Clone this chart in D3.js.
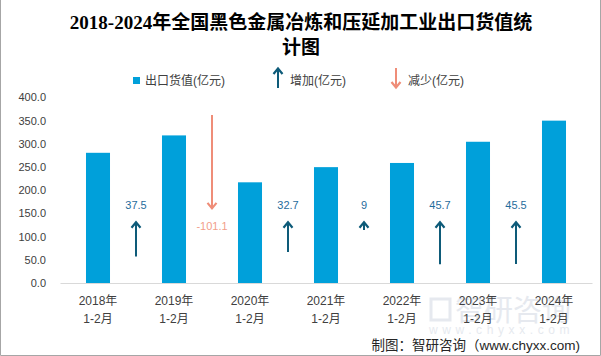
<!DOCTYPE html>
<html><head><meta charset="utf-8">
<script src="https://cdn.jsdelivr.net/npm/d3@7"></script>
<style>
html,body{margin:0;padding:0;background:#fff;}
svg{display:block;}
</style></head>
<body>
<svg id="chart" width="601" height="356"></svg>
<script>
// ---- data ----
const years = ["2018年","2019年","2020年","2021年","2022年","2023年","2024年"];
const period = "1-2月";
const exportValue = [280.6, 318.1, 217.0, 249.7, 258.7, 304.4, 349.9];
const changes = [37.5, -101.1, 32.7, 9, 45.7, 45.5];
const changeLabels = ["37.5","-101.1","32.7","9","45.7","45.5"];
const yTicks = [0, 50, 100, 150, 200, 250, 300, 350, 400];
const titleLines = ["2018-2024年全国黑色金属冶炼和压延加工业出口货值统","计图"];
const legendLabels = ["出口货值(亿元)","增加(亿元)","减少(亿元)"];
const sourceText = "制图：智研咨询（www.chyxx.com)";

// ---- style ----
const barColor = "#00A0DA";
const upColor = "#0E5B79";
const upText = "#1F6C9C";
const downColor = "#EF8D78";
const downText = "#F2A08A";
const font = "'Liberation Sans','Noto Sans CJK SC',sans-serif";

const svg = d3.select("#chart");

// frame
svg.append("path").attr("d","M0.5,0 V355.5 H600.5 V0").attr("fill","none").attr("stroke","#a6a6a6").attr("stroke-width",1);

// title
svg.append("g").selectAll("text").data(titleLines).join("text")
  .attr("x",301).attr("y",(d,i)=>29+i*25)
  .attr("text-anchor","middle")
  .attr("font-family","'Liberation Serif','Noto Sans CJK SC',serif")
  .attr("font-weight","bold").attr("font-size",19).attr("fill","#000")
  .text(d=>d);

// scales
const x = d3.scaleBand().domain(years).range([60,592]).paddingInner(0.684).paddingOuter(0.342);
const y = d3.scaleLinear().domain([0,400]).range([283,97.4]);
const y2 = d3.scaleLinear().domain([0,200]).range([283,97.4]);

// watermark
const wm = svg.append("g").attr("fill","#d6dce6").attr("opacity",0.6).attr("font-family","'Noto Sans CJK SC',sans-serif");
wm.append("text").attr("x",455).attr("y",321).attr("font-size",29).text("智研咨询");
wm.append("text").attr("x",429).attr("y",334).attr("font-size",12).attr("letter-spacing",4.6).attr("font-family","'Liberation Sans',sans-serif").text("www.chyxx.com");
wm.append("rect").attr("x",431).attr("y",299).attr("width",19).attr("height",21).attr("fill","none").attr("stroke","#d6dce6").attr("stroke-width",3);

// y axis
const yAxis = svg.append("g").attr("transform","translate(50,0)")
  .call(d3.axisLeft(y).tickValues(yTicks).tickFormat(d3.format(".1f")).tickSize(0).tickPadding(4));
yAxis.select(".domain").remove();
yAxis.selectAll("text").attr("font-family",font).attr("font-size",11).attr("fill","#404040");

// bars
svg.append("g").selectAll("rect").data(exportValue).join("rect")
  .attr("x",(d,i)=>x(years[i])).attr("width",x.bandwidth())
  .attr("y",d=>y(d)).attr("height",d=>y(0)-y(d))
  .attr("fill",barColor);

// x axis
const xAxis = svg.append("g").attr("transform","translate(0,283)")
  .call(d3.axisBottom(x).tickSize(0).tickFormat(""));
xAxis.select(".domain").attr("stroke","#d9d9d9");
xAxis.selectAll(".tick text").remove();
xAxis.selectAll(".tick").each(function(d){
  const g = d3.select(this);
  const t = g.append("text").attr("text-anchor","middle").attr("font-family",font)
    .attr("font-size",12).attr("fill","#404040");
  t.append("tspan").attr("x",0).attr("y",22).text(d);
  t.append("tspan").attr("x",0).attr("y",40).text(period);
});

// arrows (drawn as paths)
function arrow(g, cx, yTail, yTip, color){
  const dir = yTip < yTail ? 1 : -1; // 1 = pointing up
  g.append("line").attr("x1",cx).attr("x2",cx).attr("y1",yTail).attr("y2",yTip + dir*1)
    .attr("stroke",color).attr("stroke-width",2);
  g.append("path")
    .attr("d",`M${cx-4.5},${yTip+dir*6} L${cx},${yTip+dir*0.5} L${cx+4.5},${yTip+dir*6}`)
    .attr("fill","none").attr("stroke",color).attr("stroke-width",2.2).attr("stroke-linejoin","miter");
}

const upTip = 66;     // secondary-scale level of increase-arrow tips
const downTop = 181;  // secondary-scale level where decrease arrows start
const ax = i => x(years[i]) + x.bandwidth()/2 + x.step()/2;
const ag = svg.append("g");
changes.forEach((v,i)=>{
  const cx = ax(i);
  if (v >= 0){
    const y1 = y2(upTip - v), yt = y2(upTip);
    arrow(ag, cx, y1, yt, upColor);
    ag.append("text").attr("x",cx).attr("y",yt-13).attr("text-anchor","middle")
      .attr("font-family",font).attr("font-size",11).attr("fill",upText).text(changeLabels[i]);
  } else {
    const y1 = y2(downTop), yb = y2(downTop + v);
    arrow(ag, cx, y1, yb, downColor);
    ag.append("text").attr("x",cx).attr("y",yb+21).attr("text-anchor","middle")
      .attr("font-family",font).attr("font-size",11).attr("fill",downText).text(changeLabels[i]);
  }
});

// legend
const lg = svg.append("g").attr("font-family",font).attr("font-size",12).attr("fill","#404040");
lg.append("rect").attr("x",133).attr("y",77).attr("width",7).attr("height",7).attr("fill",barColor);
lg.append("text").attr("x",145).attr("y",85).text(legendLabels[0]);
arrow(lg, 278, 88, 68, upColor);
lg.append("text").attr("x",290).attr("y",85).text(legendLabels[1]);
arrow(lg, 396, 68, 88, downColor);
lg.append("text").attr("x",408).attr("y",85).text(legendLabels[2]);

// source
svg.append("text").attr("x",580).attr("y",350).attr("text-anchor","end")
  .attr("font-family",font).attr("font-size",13.5).attr("fill","#262626").text(sourceText);
</script>
</body></html>
